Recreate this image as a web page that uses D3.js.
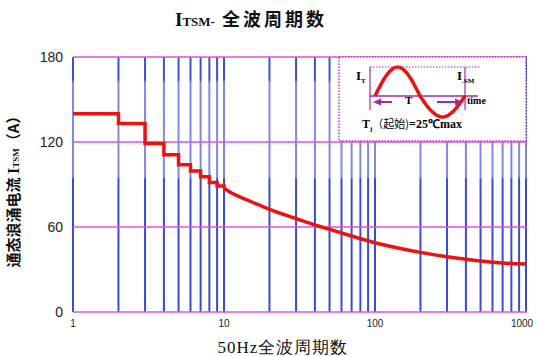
<!DOCTYPE html>
<html>
<head>
<meta charset="utf-8">
<script src="https://cdn.jsdelivr.net/npm/d3@7"></script>
<style>
  html, body { margin: 0; padding: 0; background: #fff; }
  svg { display: block; }
</style>
</head>
<body>
<div id="chart"></div>
<script>
// step part: value held over each cycle count n -> n+1
const stepCycles = [1, 2, 3, 4, 5, 6, 7, 8, 9, 10];
const stepValues = [140, 133, 119, 111, 104, 99.5, 95.5, 91.5, 89, 87.3];

// smooth part from 10 cycles upward
const curveCycles = [10, 11, 15, 20, 30, 40, 50, 60, 100, 200, 300, 400, 500, 700, 1000];
const curveValues = [87.3, 84.5, 78, 72.5, 66, 61.4, 58.4, 55.8, 48.9, 42.1, 39, 37.2, 36, 34.6, 33.8];

const yTicks = [0, 60, 120, 180];
const xLabels = [1, 10, 100, 1000];

const W = 539, H = 356;

const svg = d3.select('#chart')
  .append('svg')
  .attr('width', W)
  .attr('height', H);

const x = d3.scaleLog().domain([1, 1000]).range([73, 526]);
const y = d3.scaleLinear().domain([0, 180]).range([312, 57]);

// blue verticals look lighter in the middle band in the scan
const grad = svg.append('defs').append('linearGradient')
  .attr('id', 'vgrad')
  .attr('gradientUnits', 'userSpaceOnUse')
  .attr('x1', 0).attr('x2', 0)
  .attr('y1', y(180)).attr('y2', y(0));
[[0, '#3f4fd0'], [0.09, '#3f4fd0'], [0.1, '#7f8ae2'], [0.47, '#7f8ae2'], [0.48, '#3a4bcf'], [1, '#3a4bcf']]
  .forEach(([o, c]) => grad.append('stop').attr('offset', o).attr('stop-color', c));

const grid = svg.append('g');

grid.selectAll('line.v')
  .data(x.ticks())
  .enter()
  .append('line')
  .attr('class', 'v')
  .attr('x1', d => x(d))
  .attr('x2', d => x(d))
  .attr('y1', y(180))
  .attr('y2', y(0))
  .attr('stroke', 'url(#vgrad)')
  .attr('stroke-width', 2);

grid.selectAll('line.h')
  .data(yTicks)
  .enter()
  .append('line')
  .attr('class', 'h')
  .attr('x1', x(1))
  .attr('x2', x(1000) + 1)
  .attr('y1', d => y(d))
  .attr('y2', d => y(d))
  .attr('stroke', '#e050e0')
  .attr('stroke-width', 1.5);

// y tick labels
svg.selectAll('text.yt')
  .data(yTicks)
  .enter()
  .append('text')
  .attr('x', 63)
  .attr('y', d => y(d) + 5)
  .attr('text-anchor', 'end')
  .attr('font-family', 'Liberation Sans, Arial, sans-serif')
  .attr('font-size', 14)
  .attr('fill', '#222')
  .text(d => d);

// x tick labels
svg.selectAll('text.xt')
  .data(xLabels)
  .enter()
  .append('text')
  .attr('x', d => x(d) - (d === 1000 ? 4 : 0))
  .attr('y', 327)
  .attr('text-anchor', 'middle')
  .attr('font-family', 'Liberation Sans, Arial, sans-serif')
  .attr('font-size', 10)
  .attr('fill', '#222')
  .text(d => d);

// inset box
const inset = svg.append('g');
inset.append('rect')
  .attr('x', 339).attr('y', 57)
  .attr('width', 187).attr('height', 84)
  .attr('fill', '#fff')
  .attr('stroke', '#a83fb0')
  .attr('stroke-width', 1.5)
  .attr('stroke-dasharray', '1.5,1.5');

const purple = '#9c2f9c';
inset.append('line')
  .attr('x1', 370).attr('x2', 480).attr('y1', 67).attr('y2', 67)
  .attr('stroke', purple).attr('stroke-width', 1.2).attr('stroke-dasharray', '1.5,1.5');
inset.append('line')
  .attr('x1', 370).attr('x2', 478).attr('y1', 96).attr('y2', 96)
  .attr('stroke', purple).attr('stroke-width', 1.5);
[370, 465].forEach(px => inset.append('line')
  .attr('x1', px).attr('x2', px).attr('y1', 67).attr('y2', 110)
  .attr('stroke', purple).attr('stroke-width', 1.2));

// schematic waveform
const wave = d3.range(0, 1.0001, 0.02).map(t => {
  const s = Math.sin(t * 2 * Math.PI);
  return [375 + t * 90, 96 - s * (s > 0 ? 29 : 21)];
});
inset.append('path')
  .attr('d', d3.line().curve(d3.curveBasis)(wave))
  .attr('fill', 'none')
  .attr('stroke', '#ee1111')
  .attr('stroke-width', 3.5);

// arrows
function arrow(x1, x2, yy) {
  const dir = Math.sign(x2 - x1);
  inset.append('line')
    .attr('x1', x1).attr('x2', x2 - dir * 6).attr('y1', yy).attr('y2', yy)
    .attr('stroke', purple).attr('stroke-width', 2);
  inset.append('path')
    .attr('d', `M${x2},${yy}L${x2 - dir * 8},${yy - 3.5}L${x2 - dir * 8},${yy + 3.5}Z`)
    .attr('fill', purple);
}
arrow(392, 373, 102);
arrow(437, 463, 102);

const serif = 'Liberation Serif, Times New Roman, serif';
inset.append('text').attr('x', 356).attr('y', 80)
  .attr('font-family', serif).attr('font-weight', 'bold').attr('font-size', 13)
  .text('I').append('tspan').attr('font-size', 7).attr('dy', 3).text('T');
inset.append('text').attr('x', 457).attr('y', 80)
  .attr('font-family', serif).attr('font-weight', 'bold').attr('font-size', 13)
  .text('I').append('tspan').attr('font-size', 7).attr('dy', 3).text('.SM');
inset.append('text').attr('x', 405).attr('y', 104)
  .attr('font-family', serif).attr('font-weight', 'bold').attr('font-size', 11)
  .text('T');
inset.append('text').attr('x', 467).attr('y', 104)
  .attr('font-family', serif).attr('font-weight', 'bold').attr('font-size', 10)
  .text('time');
const tj = inset.append('text').attr('x', 362).attr('y', 128)
  .attr('font-family', serif).attr('font-weight', 'bold').attr('font-size', 12);
tj.append('tspan').text('T');
tj.append('tspan').attr('font-size', 7).attr('dy', 3).text('j');
tj.append('tspan').attr('dy', -3).attr('font-family', 'Noto Sans CJK SC').attr('font-weight', 'normal').attr('font-size', 11).text('（起始)');
tj.append('tspan').text('=25℃max');

// data curve
const line = d3.line().x(d => x(d[0])).y(d => y(d[1]));
const stepPts = stepCycles.map((c, i) => [c, stepValues[i]]);
const curvePts = curveCycles.map((c, i) => [c, curveValues[i]]);

svg.append('path')
  .attr('d', line.curve(d3.curveStepAfter)(stepPts))
  .attr('fill', 'none')
  .attr('stroke', '#ee1111')
  .attr('stroke-width', 3.5);

svg.append('path')
  .attr('d', line.curve(d3.curveMonotoneX)(curvePts))
  .attr('fill', 'none')
  .attr('stroke', '#ee1111')
  .attr('stroke-width', 3.5);

// title
const title = svg.append('text')
  .attr('x', 175).attr('y', 26)
  .attr('font-weight', 'bold')
  .attr('fill', '#111');
title.append('tspan').attr('font-family', serif).attr('font-size', 19).text('I');
title.append('tspan').attr('font-family', serif).attr('font-size', 13).text('TSM-');
title.append('tspan').attr('font-family', 'Noto Sans CJK SC').attr('font-size', 18)
  .attr('letter-spacing', 3).attr('dx', 7).text('全波周期数');

// y label
const yl = svg.append('text')
  .attr('transform', 'translate(19,188) rotate(-90)')
  .attr('text-anchor', 'middle')
  .attr('font-weight', 'bold')
  .attr('fill', '#111');
yl.append('tspan').attr('font-family', 'Noto Sans CJK SC').attr('font-size', 15).text('通态浪涌电流 ');
yl.append('tspan').attr('font-family', serif).attr('font-size', 16).text('I');
yl.append('tspan').attr('font-family', serif).attr('font-size', 9).text('TSM');
yl.append('tspan').attr('font-family', 'Noto Sans CJK SC').attr('font-size', 15).text('（A）');

// x label
svg.append('text')
  .attr('x', 283).attr('y', 353)
  .attr('text-anchor', 'middle')
  .attr('font-family', serif)
  .attr('font-size', 17)
  .attr('letter-spacing', 1)
  .attr('fill', '#111')
  .text('50Hz全波周期数');
</script>
</body>
</html>
